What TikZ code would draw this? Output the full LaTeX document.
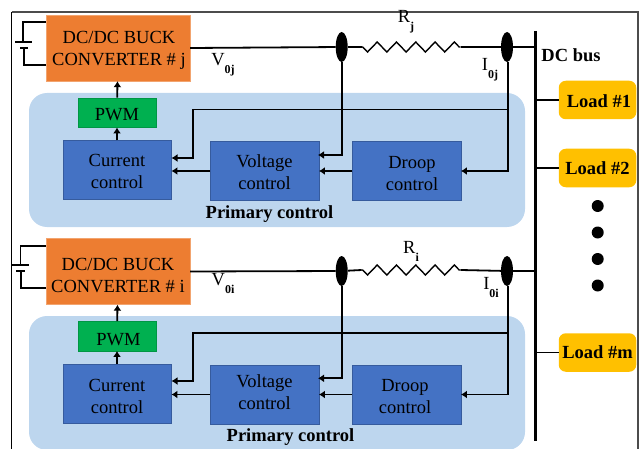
\documentclass[tikz,border=0pt]{standalone}
\usepackage{fontspec}
\setmainfont{Liberation Serif}
\usetikzlibrary{arrows.meta, shapes.geometric, positioning, decorations.pathmorphing}
\definecolor{convorange}{HTML}{ED7D31}
\definecolor{ctrlblue}{HTML}{4472C4}
\definecolor{pwmgreen}{HTML}{00B050}
\definecolor{panelblue}{HTML}{BDD6EE}
\definecolor{loadyellow}{HTML}{FFC000}
\newcommand{\dropsub}[1]{\raisebox{-8pt}{\fontsize{12}{12}\selectfont\bfseries #1}}
\newcommand{\lift}[1]{\rule{0pt}{#1pt}}
\tikzset{
  convbox/.style={rectangle, draw=convorange!70!white, fill=convorange, inner sep=0pt, align=center, minimum width=144pt, minimum height=66pt},
  pwmbox/.style={rectangle, draw=pwmgreen!85!black, fill=pwmgreen, inner sep=0pt, minimum width=78.5pt, minimum height=29.5pt},
  ctrlbox/.style={rectangle, draw=ctrlblue!80!black, fill=ctrlblue, inner sep=0pt, align=center, minimum width=108.5pt, minimum height=59pt},
  panelbox/.style={rectangle, rounded corners=18pt, fill=panelblue, inner sep=0pt, minimum width=496pt, minimum height=134pt},
  loadbox/.style={rectangle, rounded corners=7pt, fill=loadyellow, inner sep=0pt, minimum width=77.5pt, minimum height=38.5pt, font=\fontsize{18.5}{22}\selectfont\bfseries},
  tap/.style={ellipse, fill=black, inner sep=0pt, minimum width=12pt, minimum height=30pt},
  busdot/.style={circle, fill=black, inner sep=0pt, minimum size=12pt},
  wire/.style={line width=1.8pt},
  sig/.style={line width=1.8pt, -{Latex[length=6pt,width=8pt]}},
  zig/.style={line width=1.4pt, decorate, decoration={zigzag, mirror, segment length=19.3pt, amplitude=5pt, pre length=1pt, post length=1pt}}
}
\begin{document}
\begin{tikzpicture}[x=1pt, y=-1pt, on grid, font=\fontsize{18.5}{22}\selectfont]
\useasboundingbox (0,0) rectangle (639,449);

% frame
\draw[line width=1.3pt, black!70] (11.5,12) -- (638,12) -- (638,449);
\draw[line width=1.3pt] (11.5,449) -- (11.5,12);

% panels
\node[panelbox] (panelj) at (277,160) {};
\node[panelbox] (paneli) at (277,383) {};

% upper converter
\node[convbox] (Convj) at (118,48) {\lift{17.5}\hspace*{2pt}DC/DC BUCK\\\hspace*{2pt}CONVERTER \# j};
\node[ctrlbox] (Curj) at (117,170) {\lift{15.5}Current\\control};
\node[pwmbox, above=57.5pt of Curj] (PWMj) {\lift{16.5}PWM};
\node[ctrlbox, below right=1pt and 147.5pt of Curj] (Volj) {\lift{15.5}Voltage\\control};
\node[ctrlbox, right=142pt of Volj] (Drpj) {\lift{16.5}\hspace*{11pt}Droop\\\hspace*{11pt}control};
\node[font=\fontsize{18.5}{22}\selectfont\bfseries] (Prij) at (269.5,214.5) {Primary control};
\node[tap] (Tapvj) at (341.7,47) {};
\node[tap] (Tapij) at (507,47) {};
\coordinate (Rja) at (361.7,47);
\coordinate (Rjb) at (460.7,47);
\coordinate (Fbj) at (193,109.5);
\node (Vj) at (223,65) {V\dropsub{0j}};
\node (Ij) at (490,70) {I\dropsub{0j}};
\node (Rj) at (406,22) {R\dropsub{j}};

% lower converter
\node[convbox] (Convi) at (118,271.5) {\lift{19.5}DC/DC BUCK\\CONVERTER \# i};
\node[ctrlbox] (Curi) at (117,393.5) {\lift{17.5}Current\\control};
\node[pwmbox, above=57.5pt of Curi] (PWMi) {\lift{18.5}\hspace*{3pt}PWM};
\node[ctrlbox, below right=1pt and 147.5pt of Curi] (Voli) {Voltage\\control\rule[-4pt]{0pt}{0pt}};
\node[ctrlbox, right=142pt of Voli] (Drpi) {\lift{16.5}\hspace*{-3pt}Droop\\\hspace*{-3pt}control};
\node[font=\fontsize{18.5}{22}\selectfont\bfseries] (Prii) at (290.5,437.5) {Primary control};
\node[tap] (Tapvi) at (341.7,271) {};
\node[tap] (Tapii) at (507,271) {};
\coordinate (Ria) at (361.7,270);
\coordinate (Rib) at (460.7,270);
\coordinate (Fbi) at (193,333.3);
\node (Vi) at (223,284) {V\dropsub{0i}};
\node (Ii) at (491,288) {I\dropsub{0i}};
\node (Ri) at (411,251) {R\dropsub{i}};

% bus and loads
\coordinate (bustop) at (535,31);
\coordinate (busbot) at (535,441);
\draw[line width=3pt] (bustop) -- (busbot);
\node[font=\fontsize{18.5}{22}\selectfont\bfseries] (DCbus) at (571,55) {DC bus};
\node[loadbox] (Loada) at (597.5,100) {\lift{14.5}\hspace*{3pt}Load \#1};
\node[loadbox, below=68pt of Loada] (Loadb) {Load \#2};
\node[busdot] (Dota) at (597.7,206) {};
\node[busdot, below=26.5pt of Dota] (Dotb) {};
\node[busdot, below=26.5pt of Dotb] (Dotc) {};
\node[busdot, below=26.5pt of Dotc] (Dotd) {};
\node[loadbox] (Loadm) at (597.5,352.5) {Load \#m};
\draw[wire] (Loada) -- (Loada -| bustop);
\draw[wire] (Loadb) -- (Loadb -| bustop);
\draw[wire] (Loadm) -- (Loadm -| bustop);

% upper wiring
\draw[wire] (Convj.east) -- (Tapvj);
\draw[wire] (Tapvj) -- (Rja);
\draw[zig] (Rja) -- (Rjb);
\draw[wire] (Rjb) -- (Tapij);
\draw[wire] (Tapij) -- (Tapij -| bustop);
\draw[sig] (Curj) -- (PWMj);
\draw[sig] (PWMj) -- (Convj);
\draw[sig] (Volj.west) -- (Volj.west -| Curj.east);
\draw[sig] (Drpj.west) -- (Volj.east);
\draw[sig] (Tapvj) |- (318,155);
\draw[sig] ([xshift=1pt]Tapij.south) |- (Drpj.east);
\draw[sig] (Tapij |- Fbj) -- (Fbj) -- (193,158) -- (171.5,158);

% lower wiring
\draw[wire] (Convi.east) -- (Tapvi);
\draw[wire] (Tapvi) -- (Ria);
\draw[zig] (Ria) -- (Rib);
\draw[wire] (Rib) -- (Tapii);
\draw[wire] (Tapii) -- (Tapii -| bustop);
\draw[sig] (Curi) -- (PWMi);
\draw[sig] (PWMi) -- (Convi);
\draw[sig] (Voli.west) -- (Voli.west -| Curi.east);
\draw[sig] (Drpi.west) -- (Voli.east);
\draw[sig] (Tapvi) |- (318,378.3);
\draw[sig] ([xshift=1pt]Tapii.south) |- (Drpi.east);
\draw[sig] (Tapii |- Fbi) -- (Fbi) -- (193,381) -- (171.5,381);

% batteries
\coordinate (Batja) at (23,22);
\coordinate (Batjb) at (24,65);
\draw[wire] (Batja -| Convj.west) -- (Batja) -- (23,42);
\draw[wire] (15,42) -- (32,42);
\draw[wire] (20,48) -- (28,48);
\draw[wire] (24,48) -- (Batjb) -- (Batjb -| Convj.west);
\coordinate (Batia) at (20.5,245.7);
\coordinate (Batib) at (21,288);
\draw[wire] (Batia -| Convi.west) -- (Batia) -- (20.5,265);
\draw[wire] (12,265) -- (29,265);
\draw[wire] (16,271) -- (25,271);
\draw[wire] (21,271) -- (Batib) -- (Batib -| Convi.west);
\end{tikzpicture}
\end{document}
